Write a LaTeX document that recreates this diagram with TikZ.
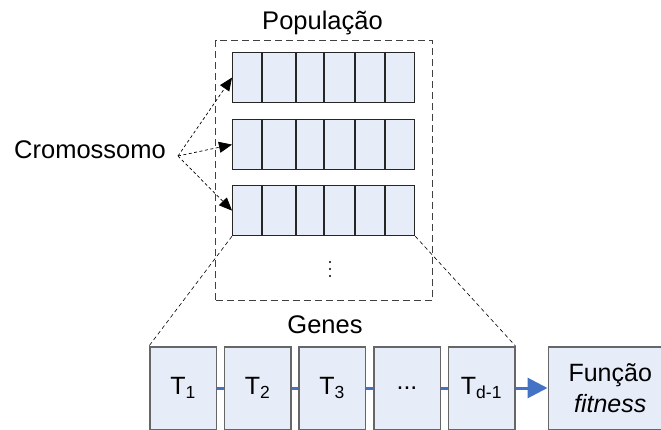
\documentclass[tikz,border=0pt]{standalone}
\usepackage{fontspec}
\setmainfont{Liberation Sans}
\usetikzlibrary{arrows.meta}
\definecolor{boxfill}{RGB}{231,237,248}
\definecolor{arrblue}{RGB}{68,114,196}
\begin{document}
\begin{tikzpicture}[x=1pt,y=-1pt,
  lbl/.style={font=\fontsize{25.5}{31}\selectfont, inner sep=0pt},
  chrom/.style={draw=black!85, fill=boxfill, line width=1.2pt, minimum width=182pt, minimum height=50pt, inner sep=0pt, anchor=north west},
  gene/.style={draw=black!60, fill=boxfill, line width=1.5pt, minimum width=66.5pt, minimum height=82.5pt, inner sep=0pt, anchor=north west, font=\fontsize{25}{31}\selectfont},
  ptr/.style={dash pattern=on 3pt off 2.5pt, line width=0.7pt, -{Triangle[length=13pt,width=11pt]}},
  zoomline/.style={dash pattern=on 4pt off 3pt, line width=0.6pt},
  blueline/.style={draw=arrblue, line width=3pt},
  popframe/.style={draw=black!75, dash pattern=on 7pt off 4pt, line width=1.1pt, minimum width=216.7pt, minimum height=260pt, inner sep=0pt, anchor=north west}
]
\clip (0,0) rectangle (661,430);
\useasboundingbox (0,0) rectangle (661,430);

% population
\node[lbl, anchor=base] (pop) at (322.5,30) {População};
\node[popframe] (popbox) at (215,40) {};
\node[chrom] (row1) at (232,52) {};
\node[chrom] (row2) at (232,119) {};
\node[chrom] (row3) at (232,185) {};
\foreach \r in {row1,row2,row3}{
  \foreach \d in {30,64,92,123,153}{
    \draw[black!85, line width=1.2pt] ([xshift=\d pt]\r.north west) -- ([xshift=\d pt]\r.south west);
  }
}
\foreach \yy in {262,269,276}{
  \fill (330,\yy) circle (1.2pt);
}

% chromosome label and pointers
\node[lbl, anchor=base west] (crom) at (14,159) {Cromossomo};
\coordinate (src) at (178,156);
\draw[ptr] (src) -- (row1.west);
\draw[ptr] (src) -- (row2.west);
\draw[ptr] (src) -- (row3.west);

% genes
\node[lbl, anchor=base] (genes) at (325,333) {Genes};
\node[gene] (t1) at (149,346) {T\textsubscript{1}};
\node[gene] (t2) at (223.5,346) {T\textsubscript{2}};
\node[gene] (t3) at (298,346) {T\textsubscript{3}};
\node[gene] (t4) at (373,346) {...};
\node[gene] (t5) at (447.5,346) {T\textsubscript{d-1}};
\node[gene, minimum width=124pt, align=center] (fit) at (547.5,346) {Função\\\textit{fitness}};

\draw[zoomline] (row3.south west) -- (t1.north west);
\draw[zoomline] (row3.south east) -- (t5.north east);

\draw[blueline] (t1.east) -- (t2.west);
\draw[blueline] (t2.east) -- (t3.west);
\draw[blueline] (t3.east) -- (t4.west);
\draw[blueline] (t4.east) -- (t5.west);
\draw[blueline, -{Triangle[length=20pt,width=20pt]}] (t5.east) -- (fit.west);
\end{tikzpicture}
\end{document}
